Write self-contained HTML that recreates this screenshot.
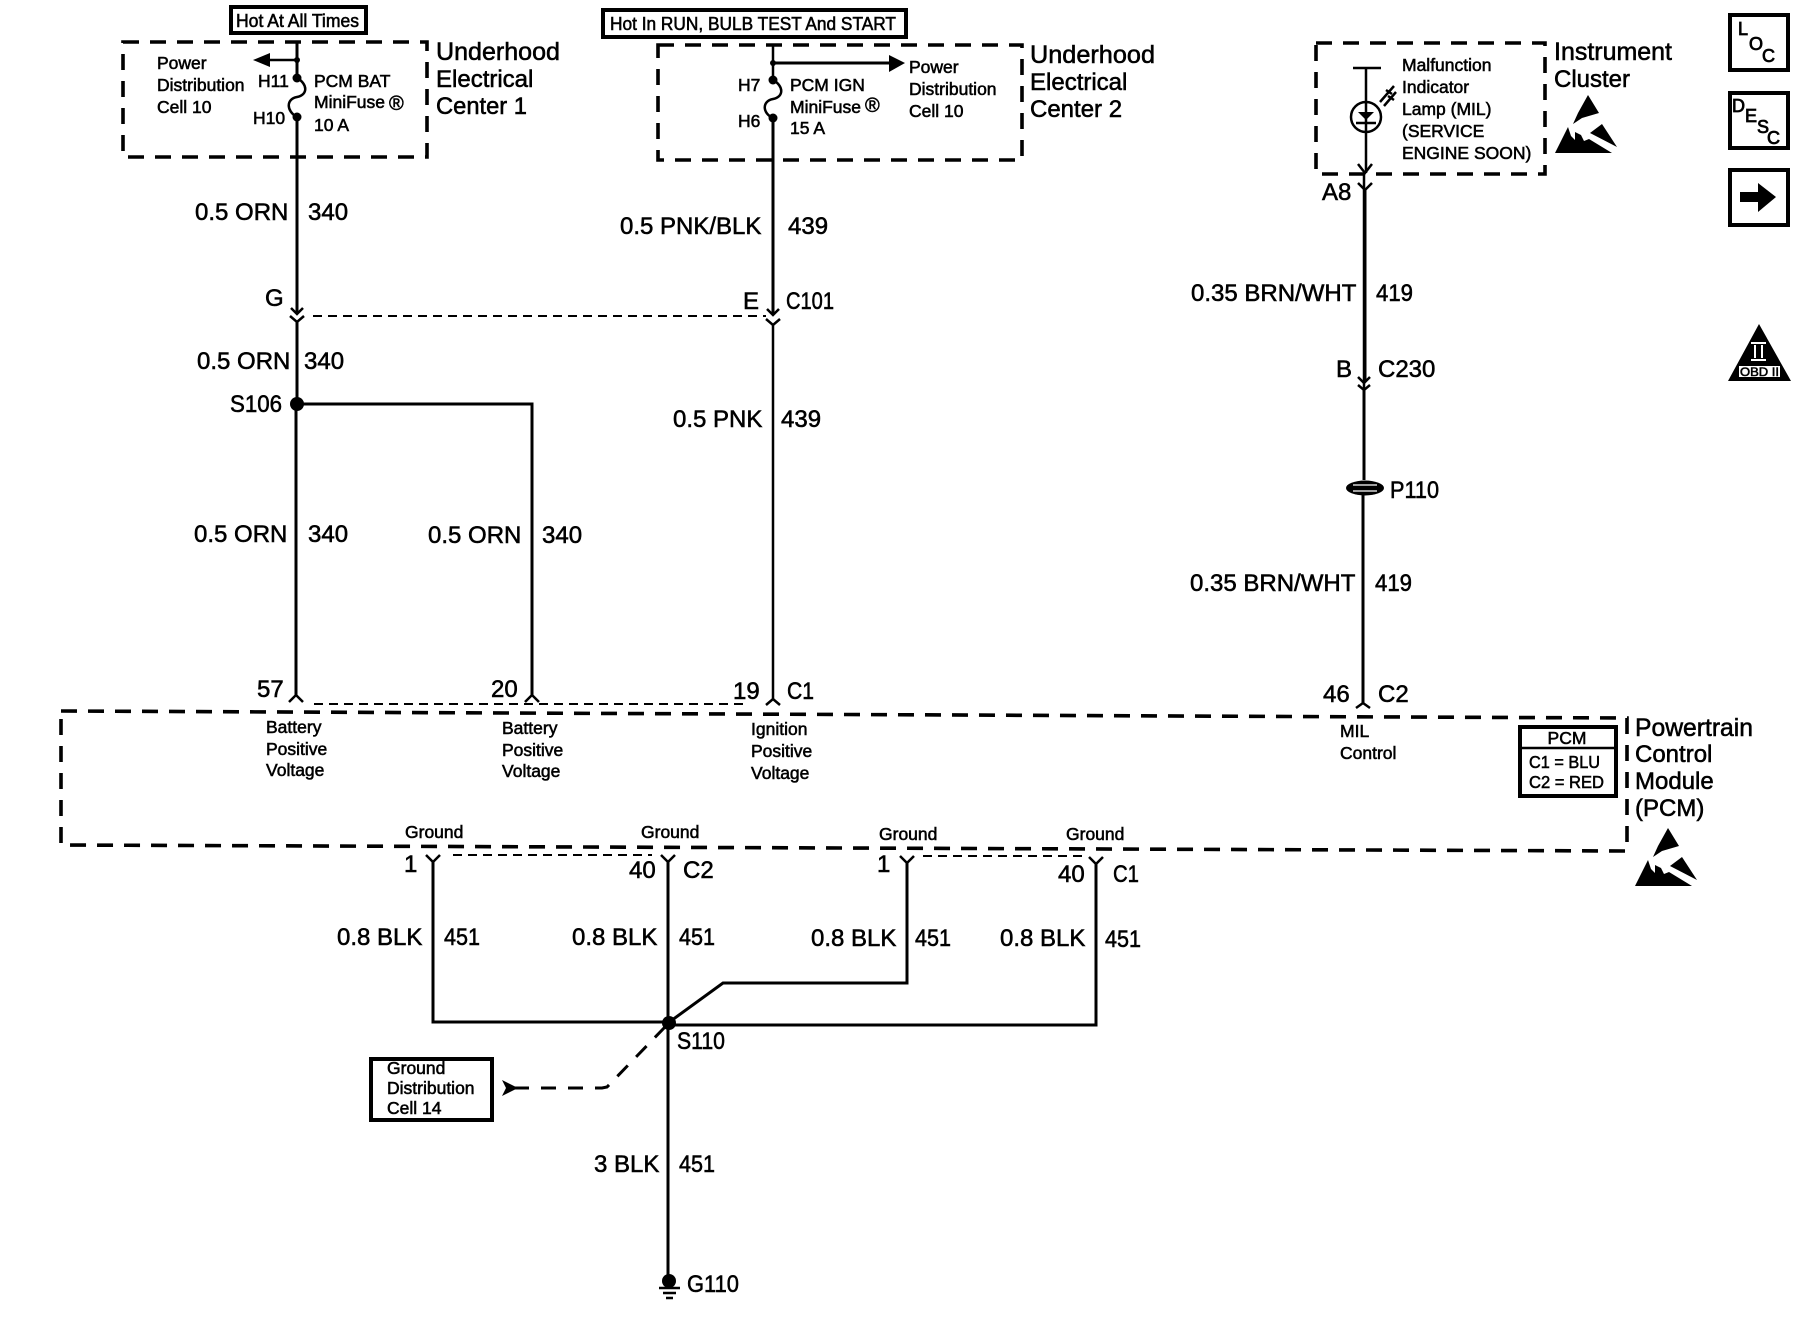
<!DOCTYPE html>
<html><head><meta charset="utf-8"><style>
html,body{margin:0;padding:0;background:#fff}
svg{display:block}
text{font-family:"Liberation Sans",sans-serif;fill:#000;stroke:#000;stroke-width:.55}
.l{font-size:24px}.s{font-size:17.5px}.g{font-size:25px}
.w{fill:none;stroke:#000;stroke-width:3}
.t{fill:none;stroke:#000;stroke-width:2.5}
.d{fill:none;stroke:#000;stroke-width:3.6;stroke-dasharray:16 11}
.h{fill:none;stroke:#000;stroke-width:2;stroke-dasharray:9 6}
.b{fill:none;stroke:#000;stroke-width:4}
.i{stroke-width:.8}
</style></head><body>
<svg width="1800" height="1328" viewBox="0 0 1800 1328" xmlns="http://www.w3.org/2000/svg">
<rect width="1800" height="1328" fill="#fff"/>

<!-- dashed boxes -->
<path class="d" d="M123 42H427V157H123Z"/>
<path class="d" d="M658 45H1022V160H658Z"/>
<path class="d" d="M1316 43H1545V174H1316Z"/>
<path class="d" d="M61 711L1627 718V851L61 845Z"/>

<!-- top labels -->
<rect class="b" x="231" y="7" width="135" height="26"/>
<text x="236" y="27" font-size="18" textLength="123" lengthAdjust="spacingAndGlyphs">Hot At All Times</text>
<rect class="b" x="603" y="10" width="303" height="27"/>
<text x="610" y="30" font-size="18" textLength="286" lengthAdjust="spacingAndGlyphs">Hot In RUN, BULB TEST And START</text>

<!-- UEC1 -->
<path class="w" d="M297 42V78"/>
<path class="t" d="M297 60H270"/>
<path d="M253 60L270 53V67Z"/>
<circle cx="297" cy="60" r="3"/><circle cx="297" cy="78" r="4.5"/><circle cx="297" cy="117" r="4.5"/>
<path class="t" d="M297 78C308 84 308 95 297 97C286 99 286 111 297 117"/>
<path class="w" d="M297 117V314"/>
<path class="t" d="M291 308L297 314L303 308M290 316L297 322L304 316M297 322V340"/>
<text class="s" x="157" y="69">Power</text>
<text class="s" x="157" y="91">Distribution</text>
<text class="s" x="157" y="113">Cell 10</text>
<text class="s" x="258" y="87" font-size="17">H11</text>
<text class="s" x="253" y="124">H10</text>
<text class="s" x="314" y="87">PCM BAT</text>
<text class="s" x="314" y="108">MiniFuse</text>
<text x="389" y="110" font-size="20">®</text>
<text class="s" x="314" y="131">10 A</text>
<text class="g" x="436" y="60" textLength="124" lengthAdjust="spacingAndGlyphs">Underhood</text>
<text class="l" x="436" y="87">Electrical</text>
<text class="l" x="436" y="114" textLength="91" lengthAdjust="spacingAndGlyphs">Center 1</text>

<!-- UEC2 -->
<path class="t" d="M773 45V80"/>
<path class="w" d="M773 63H892"/>
<path d="M905 63L889 55V72Z"/>
<circle cx="773" cy="63" r="3"/><circle cx="773" cy="80" r="4.5"/><circle cx="773" cy="118" r="4.5"/>
<path class="t" d="M773 80C784 86 784 97 773 99C762 101 762 113 773 118"/>
<path class="w" d="M773 118V315"/>
<path class="t" d="M767 309L773 315L779 309M766 319L773 325L780 319"/>
<text class="s" x="738" y="91">H7</text>
<text class="s" x="738" y="127">H6</text>
<text class="s" x="790" y="91">PCM IGN</text>
<text class="s" x="790" y="113">MiniFuse</text>
<text x="865" y="112" font-size="20">®</text>
<text class="s" x="790" y="134">15 A</text>
<text class="s" x="909" y="73">Power</text>
<text class="s" x="909" y="95">Distribution</text>
<text class="s" x="909" y="117">Cell 10</text>
<text class="g" x="1030" y="63" textLength="125" lengthAdjust="spacingAndGlyphs">Underhood</text>
<text class="l" x="1030" y="90">Electrical</text>
<text class="l" x="1030" y="117">Center 2</text>

<!-- connector dashed G-E -->
<path class="h" d="M313 316H766"/>

<!-- left wires -->
<path class="w" d="M297 322V404M296 404V695"/>
<path class="w" d="M297 404H532V695"/>
<circle cx="297" cy="404" r="7"/>
<path class="t" d="M773 325V699"/>
<text class="l" x="195" y="220">0.5 ORN</text>
<text class="l" x="308" y="220">340</text>
<text class="l" x="265" y="306">G</text>
<text class="l" x="197" y="369">0.5 ORN</text>
<text class="l" x="304" y="369">340</text>
<text class="l" x="230" y="412" textLength="52" lengthAdjust="spacingAndGlyphs">S106</text>
<text class="l" x="194" y="542">0.5 ORN</text>
<text class="l" x="308" y="542">340</text>
<text class="l" x="428" y="543">0.5 ORN</text>
<text class="l" x="542" y="543">340</text>
<text class="l" x="620" y="234">0.5 PNK/BLK</text>
<text class="l" x="788" y="234">439</text>
<text class="l" x="743" y="309">E</text>
<text class="l" x="786" y="309" textLength="48" lengthAdjust="spacingAndGlyphs">C101</text>
<text class="l" x="673" y="427">0.5 PNK</text>
<text class="l" x="781" y="427">439</text>

<!-- PCM inputs -->
<path class="t" d="M289 702L296 695L303 702M525 702L532 695L539 702M766 705L773 699L780 705M1356 708L1363 703L1370 708"/>
<path class="h" d="M314 704H743"/>
<text class="l" x="257" y="697">57</text>
<text class="l" x="491" y="697">20</text>
<text class="l" x="733" y="699">19</text>
<text class="l" x="787" y="699" textLength="27" lengthAdjust="spacingAndGlyphs">C1</text>
<text class="l" x="1323" y="702">46</text>
<text class="l" x="1378" y="702">C2</text>
<text class="s" x="266" y="733">Battery</text>
<text class="s" x="266" y="755">Positive</text>
<text class="s" x="266" y="776">Voltage</text>
<text class="s" x="502" y="734">Battery</text>
<text class="s" x="502" y="756">Positive</text>
<text class="s" x="502" y="777">Voltage</text>
<text class="s" x="751" y="735">Ignition</text>
<text class="s" x="751" y="757">Positive</text>
<text class="s" x="751" y="779">Voltage</text>
<text class="s" x="1340" y="737">MIL</text>
<text class="s" x="1340" y="759">Control</text>

<!-- PCM tag -->
<rect class="b" x="1520" y="727" width="96" height="69"/>
<path class="t" d="M1520 748H1616"/>
<text class="s" x="1567" y="744" text-anchor="middle">PCM</text>
<text class="s" x="1529" y="768" textLength="71" lengthAdjust="spacingAndGlyphs">C1 = BLU</text>
<text class="s" x="1529" y="788" textLength="75" lengthAdjust="spacingAndGlyphs">C2 = RED</text>
<text class="g" x="1635" y="736" textLength="118" lengthAdjust="spacingAndGlyphs">Powertrain</text>
<text class="l" x="1635" y="762">Control</text>
<text class="l" x="1635" y="789">Module</text>
<text class="l" x="1635" y="816">(PCM)</text>

<!-- grounds -->
<text class="s" x="405" y="838">Ground</text>
<text class="s" x="641" y="838">Ground</text>
<text class="s" x="879" y="840">Ground</text>
<text class="s" x="1066" y="840">Ground</text>
<path class="t" d="M426 855L433 862L440 855M661 855L668 862L675 855M900 856L907 863L914 856M1089 857L1096 864L1103 857"/>
<path class="h" d="M453 855H652M923 856H1087"/>
<path class="w" d="M433 862V1022H668"/>
<path class="w" d="M668 862V1277"/>
<path class="w" d="M907 863V983H723L668 1023"/>
<path class="w" d="M1096 864V1025H668"/>
<circle cx="669" cy="1023" r="7"/>
<text class="l" x="404" y="872">1</text>
<text class="l" x="629" y="878">40</text>
<text class="l" x="683" y="878">C2</text>
<text class="l" x="877" y="872">1</text>
<text class="l" x="1058" y="882">40</text>
<text class="l" x="1113" y="882" textLength="26" lengthAdjust="spacingAndGlyphs">C1</text>
<text class="l" x="337" y="945">0.8 BLK</text>
<text class="l" x="444" y="945" textLength="36" lengthAdjust="spacingAndGlyphs">451</text>
<text class="l" x="572" y="945">0.8 BLK</text>
<text class="l" x="679" y="945" textLength="36" lengthAdjust="spacingAndGlyphs">451</text>
<text class="l" x="811" y="946">0.8 BLK</text>
<text class="l" x="915" y="946" textLength="36" lengthAdjust="spacingAndGlyphs">451</text>
<text class="l" x="1000" y="946">0.8 BLK</text>
<text class="l" x="1105" y="947" textLength="36" lengthAdjust="spacingAndGlyphs">451</text>
<text class="l" x="677" y="1049" textLength="48" lengthAdjust="spacingAndGlyphs">S110</text>
<text class="l" x="594" y="1172">3 BLK</text>
<text class="l" x="679" y="1172" textLength="36" lengthAdjust="spacingAndGlyphs">451</text>
<text class="l" x="687" y="1292" textLength="52" lengthAdjust="spacingAndGlyphs">G110</text>
<circle cx="669" cy="1281" r="7"/>
<path class="t" d="M659 1288H680M663 1293H676M666 1298H673"/>

<!-- ground distribution -->
<rect class="b" x="371" y="1059" width="121" height="61"/>
<text class="s" x="387" y="1074">Ground</text>
<text class="s" x="387" y="1094">Distribution</text>
<text class="s" x="387" y="1114">Cell 14</text>
<path d="M502 1080L518 1088L502 1096L506 1088Z"/>
<path fill="none" stroke="#000" stroke-width="3" stroke-dasharray="15 12" d="M514 1088H602L607 1087L665 1027"/>

<!-- Instrument cluster -->
<path class="t" d="M1353 68H1381"/>
<path class="t" d="M1366 68V173M1364 173V400"/>
<circle cx="1366" cy="117" r="15" fill="none" stroke="#000" stroke-width="2.500"/>
<path d="M1358 112H1374L1366 120Z"/>
<path class="t" d="M1356 123H1376"/>
<path class="t" d="M1380 102L1394 86M1384 106L1396 92M1386 90L1392 94M1388 96L1394 100"/>
<path class="t" d="M1358 164L1365 173L1372 164M1358 183L1365 190L1372 183M1358 377L1364 383L1370 377M1358 385L1364 390L1370 385"/>
<path class="w" d="M1365 190V380M1364 390V480M1363 495V703"/>
<ellipse cx="1365" cy="488" rx="19" ry="7.500" fill="#000"/>
<path d="M1353 485H1377M1353 491H1377" fill="none" stroke="#fff" stroke-width="1.200"/>
<text class="s" x="1402" y="71">Malfunction</text>
<text class="s" x="1402" y="93">Indicator</text>
<text class="s" x="1402" y="115">Lamp (MIL)</text>
<text class="s" x="1402" y="137">(SERVICE</text>
<text class="s" x="1402" y="159" font-size="17">ENGINE SOON)</text>
<text class="g" x="1554" y="60" textLength="118" lengthAdjust="spacingAndGlyphs">Instrument</text>
<text class="l" x="1554" y="87">Cluster</text>
<text class="l" x="1322" y="200">A8</text>
<text class="l" x="1191" y="301">0.35 BRN/WHT</text>
<text class="l" x="1376" y="301" textLength="37" lengthAdjust="spacingAndGlyphs">419</text>
<text class="l" x="1336" y="377">B</text>
<text class="l" x="1378" y="377">C230</text>
<text class="l" x="1390" y="498" textLength="49" lengthAdjust="spacingAndGlyphs">P110</text>
<text class="l" x="1190" y="591">0.35 BRN/WHT</text>
<text class="l" x="1375" y="591" textLength="37" lengthAdjust="spacingAndGlyphs">419</text>

<!-- ESD symbols -->
<g>
<path d="M1588 95L1599 113L1582 118L1573 124L1578 113Z"/>
<path d="M1568 127L1555 153L1612 153L1589 139L1584 141L1581 135L1575 132L1575 140L1571 136Z"/>
<path d="M1602 124L1617 147L1590 133Z"/>
</g>
<g transform="translate(80 733)">
<path d="M1588 95L1599 113L1582 118L1573 124L1578 113Z"/>
<path d="M1568 127L1555 153L1612 153L1589 139L1584 141L1581 135L1575 132L1575 140L1571 136Z"/>
<path d="M1602 124L1617 147L1590 133Z"/>
</g>

<!-- right icons -->
<rect class="b" x="1730" y="15" width="58" height="55"/>
<text class="i" x="1738" y="35" font-size="18">L</text>
<text class="i" x="1749" y="50" font-size="18">O</text>
<text class="i" x="1762" y="62" font-size="18">C</text>
<rect class="b" x="1730" y="93" width="58" height="55"/>
<text class="i" x="1732" y="112" font-size="18">D</text>
<text class="i" x="1745" y="122" font-size="18">E</text>
<text class="i" x="1757" y="133" font-size="18">S</text>
<text class="i" x="1767" y="144" font-size="18">C</text>
<rect class="b" x="1730" y="170" width="58" height="55"/>
<path d="M1740 192H1758V183L1776 197L1758 212V202H1740Z"/>
<path d="M1759 324L1791 381H1728Z"/>
<rect x="1739" y="366" width="41" height="11" fill="#fff"/>
<text x="1740" y="376" font-size="12" textLength="39" lengthAdjust="spacingAndGlyphs">OBD II</text>
<path d="M1751 343H1766M1751 360H1766M1755 345V358M1762 345V358" fill="none" stroke="#fff" stroke-width="2"/>
</svg>
</body></html>
